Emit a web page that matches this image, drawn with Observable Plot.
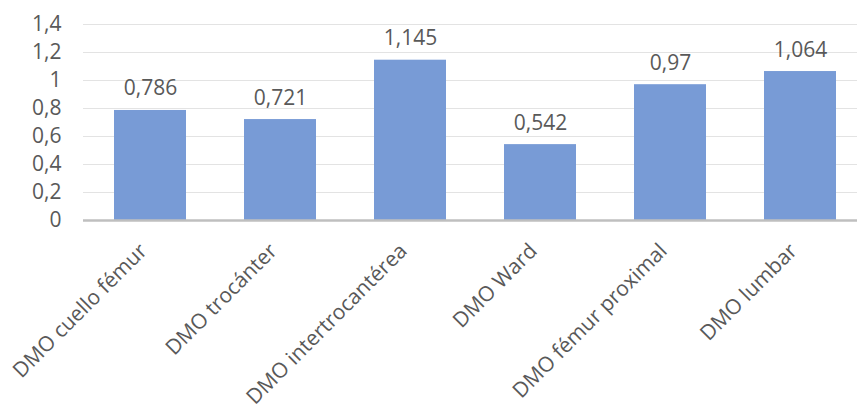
<!DOCTYPE html>
<html>
<head>
<meta charset="utf-8">
<script src="https://cdn.jsdelivr.net/npm/d3@7"></script>
<script src="https://cdn.jsdelivr.net/npm/@observablehq/plot@0.6"></script>
<style>
  html, body { margin: 0; padding: 0; background: #fff; overflow: hidden; }
  #chart svg { display: block; overflow: visible; }
</style>
</head>
<body>
<div id="chart"></div>
<script>
// Densidad mineral ósea media por región
const categories = ["DMO cuello fémur", "DMO trocánter", "DMO intertrocantérea", "DMO Ward", "DMO fémur proximal", "DMO lumbar"];
const values = [0.786, 0.721, 1.145, 0.542, 0.97, 1.064];
const yTicks = [0, 0.2, 0.4, 0.6, 0.8, 1, 1.2, 1.4];

const data = categories.map((c, i) => ({category: c, value: values[i]}));
const fmt = v => String(v).replace(".", ",");
const font = "'Open Sans', sans-serif";
const textColor = "#595959";

const chart = Plot.plot({
  width: 857,
  height: 411,
  marginLeft: 83,
  marginRight: 0,
  marginTop: 24,
  marginBottom: 191,
  style: {fontFamily: font, color: textColor, background: "#fff"},
  x: {domain: categories, range: [83, 866], paddingInner: 0.45, paddingOuter: 0.225, label: null},
  y: {domain: [0, 1.4], label: null},
  marks: [
    Plot.gridY(yTicks, {stroke: "#e3e3e3", strokeOpacity: 1, strokeWidth: 1}),
    Plot.barY(data, {x: "category", y: "value", fill: "#789bd6"}),
    Plot.ruleY([0], {stroke: "#bfbfbf", strokeWidth: 2.5}),
    Plot.axisY(yTicks, {tickSize: 0, tickPadding: 22, tickFormat: fmt, fontSize: 21, fill: textColor, label: null}),
    Plot.axisX({tickSize: 0, tickRotate: -45, tickPadding: 27, dx: -7, fontSize: 21, fill: textColor, label: null, textAnchor: "end"}),
    Plot.text(data, {x: "category", y: "value", text: d => fmt(d.value), lineAnchor: "bottom", dy: -15, fontSize: 21, fill: textColor})
  ]
});
document.getElementById("chart").appendChild(chart);
</script>
</body>
</html>
